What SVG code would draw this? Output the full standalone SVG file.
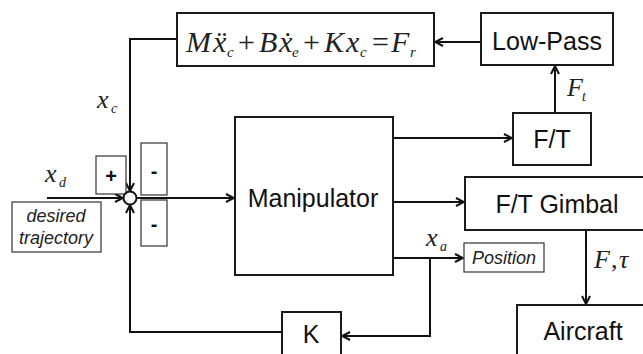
<svg xmlns="http://www.w3.org/2000/svg" width="643" height="354" viewBox="0 0 643 354">
<style>
.box{fill:#fff;stroke:#1a1a1a;stroke-width:2}
.thin{fill:#fff;stroke:#333;stroke-width:1.2}
.lbl{font-family:"Liberation Sans",Arial,sans-serif;font-size:25px;fill:#111;text-anchor:middle}
.it{font-family:"Liberation Sans",Arial,sans-serif;font-style:italic;font-size:18px;fill:#222;text-anchor:middle}
.sign{font-family:"Liberation Sans",Arial,sans-serif;font-weight:bold;font-size:20px;fill:#111;text-anchor:middle}
.m{font-family:"Liberation Serif","Times New Roman",serif;font-style:italic;fill:#222}
.mn{font-family:"Liberation Serif","Times New Roman",serif;fill:#222}
.wire{fill:none;stroke:#111;stroke-width:2}
</style>
<defs>
<marker id="ah" viewBox="0 0 10 10" refX="9" refY="5" markerWidth="10" markerHeight="10" markerUnits="userSpaceOnUse" orient="auto">
<path d="M1,1 L9,5 L1,9" fill="none" stroke="#111" stroke-width="2"/>
</marker>
</defs>
<rect width="643" height="354" fill="#fff"/>

<g id="connectors">
<path class="wire" d="M481,42 L435,42" marker-end="url(#ah)"/>
<path class="wire" d="M177,39 L130,39 L130,191" marker-end="url(#ah)"/>
<path class="wire" d="M47,198 L123,198" marker-end="url(#ah)"/>
<path class="wire" d="M136.5,198 L234,198" marker-end="url(#ah)"/>
<path class="wire" d="M393,138 L512,138" marker-end="url(#ah)"/>
<path class="wire" d="M555,113 L555,66" marker-end="url(#ah)"/>
<path class="wire" d="M393,202 L464,202" marker-end="url(#ah)"/>
<path class="wire" d="M393,258 L463,258" marker-end="url(#ah)"/>
<path class="wire" d="M430,258 L430,336 L342,336" marker-end="url(#ah)"/>
<path class="wire" d="M282,332 L130,332 L130,205" marker-end="url(#ah)"/>
<path class="wire" d="M586,230 L586,304" marker-end="url(#ah)"/>
</g>

<g id="impedance">
<rect class="box" x="177" y="13" width="257" height="53"/>
<text class="m" x="186" y="52" font-size="30">M</text>
<text class="m" x="213" y="52" font-size="30">ẍ</text>
<text class="m" x="227" y="57" font-size="15">c</text>
<text class="mn" x="238" y="52" font-size="30">+</text>
<text class="m" x="259" y="52" font-size="30">B</text>
<text class="m" x="279" y="52" font-size="30">ẋ</text>
<text class="m" x="292" y="57" font-size="15">e</text>
<text class="mn" x="303" y="52" font-size="30">+</text>
<text class="m" x="324" y="52" font-size="30">K</text>
<text class="m" x="346" y="52" font-size="30">x</text>
<text class="m" x="360" y="57" font-size="15">c</text>
<text class="mn" x="372" y="52" font-size="30">=</text>
<text class="m" x="391" y="52" font-size="30">F</text>
<text class="m" x="410" y="57" font-size="15">r</text>
</g>

<g id="lowpass">
<rect class="box" x="481" y="13" width="132" height="52"/>
<text class="lbl" x="547" y="50">Low-Pass</text>
</g>

<g id="ft">
<rect class="box" x="513" y="113" width="78" height="52"/>
<text class="lbl" x="552" y="148">F/T</text>
</g>

<g id="manipulator">
<rect class="box" x="235" y="117" width="158" height="158"/>
<text class="lbl" x="313" y="207">Manipulator</text>
</g>

<g id="gimbal">
<rect class="box" x="465" y="177" width="200" height="53"/>
<text class="lbl" x="557" y="213">F/T Gimbal</text>
</g>

<g id="aircraft">
<rect class="box" x="517" y="305" width="150" height="70"/>
<text class="lbl" x="583" y="340">Aircraft</text>
</g>

<g id="k">
<rect class="box" x="282" y="312" width="59" height="50"/>
<text class="lbl" x="311" y="343">K</text>
</g>

<g id="position">
<rect class="thin" x="464" y="243" width="80" height="29"/>
<text class="it" x="504" y="264">Position</text>
</g>

<g id="desired">
<rect class="thin" x="12" y="202" width="89" height="50"/>
<text class="it" x="56" y="222">desired</text>
<text class="it" x="56" y="244">trajectory</text>
</g>

<g id="signs">
<rect class="thin" x="96" y="156" width="30" height="38"/>
<text class="sign" x="111" y="183">+</text>
<rect class="thin" x="141" y="143" width="26" height="52"/>
<text class="sign" x="154" y="178">-</text>
<rect class="thin" x="141" y="200" width="26" height="46"/>
<text class="sign" x="154" y="231">-</text>
</g>

<g id="junction">
<circle cx="130" cy="198" r="6.5" fill="#fff" stroke="#111" stroke-width="2"/>
</g>

<g id="labels">
<text class="m" x="97" y="108" font-size="26">x</text>
<text class="m" x="111" y="113" font-size="14">c</text>
<text class="m" x="45" y="182" font-size="26">x</text>
<text class="m" x="59" y="187" font-size="14">d</text>
<text class="m" x="426" y="246" font-size="26">x</text>
<text class="m" x="440" y="251" font-size="14">a</text>
<text class="m" x="567" y="96" font-size="26">F</text>
<text class="m" x="582" y="101" font-size="14">t</text>
<text class="m" x="594" y="268" font-size="26">F</text>
<text class="mn" x="611" y="268" font-size="26">,</text>
<text class="m" x="619" y="268" font-size="26">τ</text>
</g>
</svg>
